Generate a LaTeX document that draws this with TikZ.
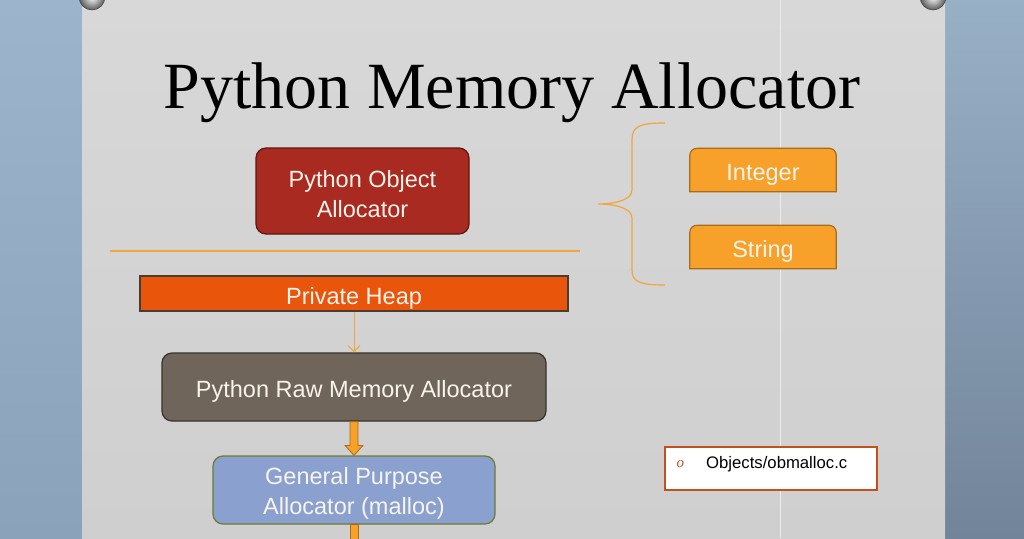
\documentclass[tikz,border=0pt]{standalone}
\usepackage{fontspec}
\setmainfont{Liberation Serif}
\newfontfamily\boxfont{Liberation Sans}
\usetikzlibrary{calc,arrows.meta,positioning}
\definecolor{bgLtop}{HTML}{9CB5CC}
\definecolor{bgLbot}{HTML}{8AA3BB}
\definecolor{bgRtop}{HTML}{98B0C6}
\definecolor{bgRbot}{HTML}{72849A}
\definecolor{paper}{HTML}{CFCFCF}
\definecolor{papertop}{HTML}{D8D8D8}
\definecolor{objred}{HTML}{A92A20}
\definecolor{objredb}{HTML}{5E160F}
\definecolor{linor}{HTML}{F0A63A}
\definecolor{tagor}{HTML}{F7A12A}
\definecolor{tagorb}{HTML}{A86C18}
\definecolor{heap}{HTML}{E9560B}
\definecolor{heapb}{HTML}{4A3C32}
\definecolor{raw}{HTML}{6F655A}
\definecolor{rawb}{HTML}{38322C}
\definecolor{gpa}{HTML}{8AA0CF}
\definecolor{gpab}{HTML}{6E7A2E}
\definecolor{refb}{HTML}{C4501C}
\definecolor{txt}{HTML}{F8F4EC}
\tikzset{
  box/.style={draw, line width=1.2pt, rounded corners=10pt, text=txt, align=center,
    font=\boxfont\fontsize{23.5}{30}\selectfont, inner sep=0pt},
  tag/.style={inner sep=0pt, text=txt, text depth=0pt,
    minimum width=146pt, minimum height=43pt, font=\boxfont\fontsize{23.5}{24}\selectfont},
  tagshape/.style={draw=tagorb, fill=tagor, line width=1.2pt},
  blockarrow/.style={fill=tagor, draw=tagorb, line width=0.8pt},
  pin/.style={inner color=white, outer color=gray!70!black, draw=gray!50!black, line width=0.5pt}
}
\begin{document}
\begin{tikzpicture}[x=1pt,y=-1pt]
\useasboundingbox (0,0) rectangle (1024,538);
% background
\shade[top color=bgLtop, bottom color=bgLbot] (0,0) rectangle (82,538);
\shade[top color=bgRtop, bottom color=bgRbot] (945,0) rectangle (1024,538);
\shade[top color=papertop, bottom color=paper] (82,0) rectangle (945,538);
\draw[white!60!paper, line width=1pt] (780,0) -- (780,538);
% pins
\shade[pin] (92,-3) circle (13);
\shade[pin] (933,-3) circle (13);
% title
\node[anchor=base, font=\fontsize{66}{70}\selectfont] (title) at (512,108) {Python Memory Allocator};
% boxes
\node[box, fill=objred, draw=objredb, minimum width=213pt, minimum height=86pt] (obj) at (362.5,191) {\rule{0pt}{23pt}Python Object\\Allocator};
\draw[linor, line width=1.2pt] (110,251) coordinate (sepL) -- (580,251) coordinate (sepR);
\node[draw=heapb, fill=heap, line width=1.2pt, text=txt, inner sep=0pt, minimum width=428pt, minimum height=35pt, text depth=0pt, text height=21pt,
  font=\boxfont\fontsize{23.5}{24}\selectfont] (heap) at (354,293.5) {Private Heap};
\node[box, fill=raw, draw=rawb, minimum width=384pt, minimum height=68pt, text depth=0pt, text height=21pt] (raw) at (354,387) {Python Raw Memory Allocator};
\node[box, fill=gpa, draw=gpab, minimum width=282pt, minimum height=68pt] (gpa) at (354,490) {\rule{0pt}{24pt}General Purpose\\Allocator (malloc)};
% tags
\node[tag] (int) at (763,170) {\phantom{I}};
\draw[tagshape] (int.south west) [rounded corners=7pt] -- (int.north west) -- (int.north east) [sharp corners] -- (int.south east) -- cycle;
\node[tag, yshift=-2pt] at (int) {Integer};
\node[tag] (str) at (763,247) {\phantom{S}};
\draw[tagshape] (str.south west) [rounded corners=7pt] -- (str.north west) -- (str.north east) [sharp corners] -- (str.south east) -- cycle;
\node[tag, yshift=-2pt] at (str) {String};
% brace
\coordinate (btip) at (598,204);
\draw[linor, line width=1.2pt] (665,123) .. controls (640,123) and (632,126) .. (632,140) -- (632,190)
  .. controls (632,200) and (615,204) .. (btip)
  .. controls (615,204) and (632,208) .. (632,218) -- (632,270)
  .. controls (632,282) and (640,285) .. (665,285);
% arrows
\draw[linor, line width=1pt, -{Straight Barb[length=6pt,width=12pt]}] (heap.south) -- (raw.north);
\path (raw.south) coordinate (ra) (gpa.north) coordinate (gb);
\draw[blockarrow] ($(ra)+(-4,0)$) -- ($(gb)+(-4,-10)$) -- ($(gb)+(-9,-10)$) -- (gb) -- ($(gb)+(9,-10)$) -- ($(gb)+(4,-10)$) -- ($(ra)+(4,0)$) -- cycle;
\coordinate (bot) at ($(gpa.south)+(0,20)$);
\draw[blockarrow] ($(gpa.south)+(-4,0)$) rectangle ($(bot)+(4,0)$);
% reference
\node[draw=refb, fill=white, line width=1.5pt, minimum width=212pt, minimum height=43pt, inner sep=0pt] (ref) at (771,468.5) {};
\node[anchor=west, text=refb, font=\itshape\fontsize{15}{16}\selectfont] (bul) at (673,464) {o};
\node[anchor=west, inner sep=0pt, font=\boxfont\fontsize{16.7}{18}\selectfont] (reft) at (706,464) {Objects/obmalloc.c};
\end{tikzpicture}
\end{document}
